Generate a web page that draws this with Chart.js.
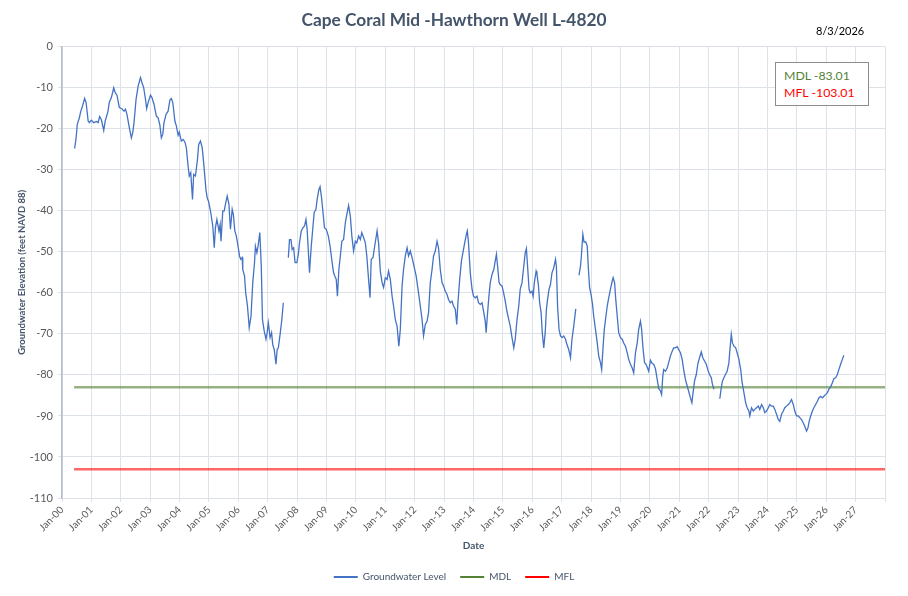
<!DOCTYPE html>
<html>
<head>
<meta charset="utf-8">
<script src="https://cdn.jsdelivr.net/npm/chart.js@4.4.1/dist/chart.umd.min.js"></script>
<style>
html,body{margin:0;padding:0;background:#fff;}
#wrap{position:relative;width:908px;height:596px;}
#date{position:absolute;left:816px;top:24px;font:11px Lato, sans-serif;color:#000;white-space:nowrap;}
#box{position:absolute;left:775px;top:62px;width:94px;height:44px;border:1px solid #8C8C8C;background:#fff;box-sizing:border-box;padding:4px 0 0 8px;font:12.3px Lato, sans-serif;line-height:17px;white-space:nowrap;}
#box .mdl{color:#548235;}
#box .mfl{color:#FF0000;}
</style>
</head>
<body>
<div id="wrap">
<canvas id="c" width="908" height="596"></canvas>
<div id="date">8/3/2026</div>
<div id="box"><div class="mdl">MDL -83.01</div><div class="mfl">MFL -103.01</div></div>
</div>
<script>
// ---- data (decimal year, feet NAVD 88) ----
const chartTitle = 'Cape Coral Mid -Hawthorn Well L-4820';
const seriesNames = ['Groundwater Level', 'MDL', 'MFL'];
const dates = [
  2000.43,2000.48,2000.52,2000.59,2000.64,2000.70,2000.77,2000.82,2000.89,2000.93,
  2001.00,2001.08,2001.17,2001.23,2001.28,2001.34,2001.42,2001.47,2001.56,2001.61,2001.68,2001.76,2001.81,2001.87,2001.95,
  2002.04,2002.11,2002.16,2002.21,2002.29,2002.36,2002.41,2002.45,2002.52,2002.59,2002.67,2002.72,2002.78,2002.84,2002.88,2002.93,
  2003.01,2003.06,2003.13,2003.21,2003.27,2003.33,2003.38,2003.43,2003.47,2003.54,2003.61,2003.67,2003.72,2003.77,2003.84,2003.89,2003.95,2003.99,
  2004.06,2004.12,2004.18,2004.23,2004.29,2004.33,2004.38,2004.44,2004.48,2004.54,2004.61,2004.65,2004.71,2004.77,2004.83,2004.90,2004.94,2004.99,
  2005.06,2005.13,2005.18,2005.22,2005.27,2005.34,2005.38,2005.41,2005.47,2005.52,2005.56,2005.62,2005.68,2005.73,2005.79,2005.83,2005.88,2005.93,2005.98,
  2006.04,2006.08,2006.13,2006.15,2006.21,2006.25,2006.31,2006.37,2006.43,2006.49,2006.55,2006.58,2006.63,2006.67,2006.73,2006.78,2006.82,2006.88,2006.94,2006.98,
  2007.02,2007.08,2007.13,2007.17,2007.22,2007.28,2007.32,2007.36,2007.42,2007.48,2007.53,2007.62,2007.70,2007.74,2007.79,2007.83,2007.88,2007.93,2007.99,
  2008.04,2008.08,2008.14,2008.20,2008.25,2008.30,2008.34,2008.39,2008.42,2008.48,2008.54,2008.58,2008.64,2008.68,2008.74,2008.78,2008.83,2008.88,2008.93,2008.99,
  2009.06,2009.12,2009.19,2009.24,2009.28,2009.33,2009.37,2009.42,2009.47,2009.52,2009.58,2009.64,2009.69,2009.75,2009.81,2009.86,2009.92,2009.98,
  2010.03,2010.09,2010.15,2010.20,2010.26,2010.32,2010.37,2010.43,2010.48,2010.52,2010.58,2010.63,2010.72,2010.77,2010.83,2010.89,2010.94,
  2011.00,2011.06,2011.11,2011.17,2011.23,2011.28,2011.34,2011.40,2011.46,2011.51,2011.57,2011.62,2011.68,2011.74,2011.79,2011.85,2011.91,2011.96,
  2012.05,2012.13,2012.19,2012.25,2012.30,2012.36,2012.42,2012.47,2012.53,2012.59,2012.64,2012.70,2012.76,2012.81,2012.87,2012.93,2012.98,
  2013.04,2013.10,2013.15,2013.21,2013.27,2013.32,2013.38,2013.43,2013.47,2013.53,2013.59,2013.64,2013.70,2013.76,2013.79,2013.83,2013.89,2013.95,
  2014.00,2014.06,2014.12,2014.17,2014.23,2014.29,2014.34,2014.40,2014.43,2014.47,2014.52,2014.57,2014.63,2014.69,2014.74,2014.78,2014.82,2014.87,2014.91,2014.97,
  2015.03,2015.08,2015.14,2015.20,2015.25,2015.31,2015.37,2015.42,2015.48,2015.54,2015.59,2015.65,2015.71,2015.76,2015.80,2015.84,2015.89,2015.93,2015.99,
  2016.03,2016.07,2016.13,2016.16,2016.21,2016.25,2016.30,2016.34,2016.39,2016.44,2016.48,2016.52,2016.57,2016.62,2016.67,2016.73,2016.79,2016.82,2016.86,2016.91,2016.96,
  2017.01,2017.07,2017.13,2017.18,2017.24,2017.30,2017.35,2017.41,2017.48,2017.53,2017.59,2017.64,2017.67,2017.72,2017.76,2017.82,2017.87,2017.91,2017.95,
  2018.00,2018.05,2018.09,2018.15,2018.21,2018.26,2018.32,2018.36,2018.41,2018.45,2018.50,2018.55,2018.60,2018.66,2018.72,2018.75,2018.80,2018.84,2018.89,2018.94,
  2019.00,2019.06,2019.11,2019.17,2019.23,2019.28,2019.34,2019.40,2019.45,2019.51,2019.57,2019.62,2019.68,2019.72,2019.77,2019.82,2019.87,2019.92,2019.96,
  2020.02,2020.08,2020.13,2020.19,2020.25,2020.30,2020.36,2020.40,2020.44,2020.47,2020.53,2020.59,2020.64,2020.70,2020.76,2020.81,2020.87,2020.93,2020.98,
  2021.04,2021.10,2021.15,2021.21,2021.27,2021.32,2021.38,2021.43,2021.47,2021.52,2021.58,2021.63,2021.69,2021.75,2021.80,2021.86,2021.92,2021.97,
  2022.03,2022.09,2022.13,2022.18,2022.28,2022.38,2022.43,2022.47,2022.52,2022.57,2022.63,2022.69,2022.72,2022.77,2022.81,2022.86,2022.92,2022.97,
  2023.03,2023.09,2023.14,2023.20,2023.26,2023.31,2023.37,2023.40,2023.46,2023.52,2023.57,2023.63,2023.69,2023.74,2023.80,2023.86,2023.91,2023.97,
  2024.03,2024.08,2024.14,2024.20,2024.25,2024.31,2024.37,2024.42,2024.48,2024.54,2024.59,2024.65,2024.71,2024.76,2024.82,2024.88,2024.93,2024.99,
  2025.05,2025.10,2025.16,2025.22,2025.27,2025.33,2025.38,2025.42,2025.47,2025.53,2025.58,2025.64,2025.70,2025.75,2025.81,2025.87,2025.92,2025.98,
  2026.04,2026.09,2026.15,2026.21,2026.26,2026.32,2026.38,2026.43,2026.49,2026.55,2026.60
];
const levels = [
  -24.8,-22.2,-18.9,-17.3,-15.7,-14.4,-12.6,-13.6,-18.1,-18.5,
  -17.9,-18.5,-18.2,-18.5,-17.0,-17.8,-20.4,-18.1,-15.9,-13.5,-12.4,-10.0,-11.2,-11.8,-14.8,
  -15.1,-15.7,-15.2,-16.5,-19.7,-22.2,-20.8,-18.5,-12.8,-9.6,-7.5,-8.7,-10.0,-12.8,-15.1,-13.6,
  -11.8,-12.4,-14.0,-16.9,-17.3,-19.1,-22.2,-21.3,-18.5,-16.5,-15.7,-13.0,-12.6,-13.6,-18.1,-19.3,-21.6,-20.8,
  -23.0,-22.6,-23.2,-24.6,-29.1,-31.5,-30.7,-37.2,-31.1,-31.5,-27.4,-23.8,-23.0,-24.6,-29.1,-35.0,-36.8,-37.8,
  -40.4,-43.7,-49.0,-44.1,-42.1,-44.9,-43.3,-47.4,-40.0,-40.0,-38.4,-36.4,-38.4,-44.5,-39.6,-40.9,-44.9,-46.1,-48.2,
  -51.0,-51.8,-51.4,-54.3,-55.9,-60.0,-63.2,-68.5,-65.7,-57.5,-52.6,-48.6,-50.2,-48.6,-45.3,-53.5,-66.5,-69.3,-71.3,-69.7,
  -67.3,-70.9,-69.7,-72.6,-73.8,-77.4,-73.8,-73.4,-70.1,-66.5,-62.4,null,-51.4,-47.0,-47.0,-49.4,-49.0,-52.6,-52.6,
  -50.6,-47.8,-44.9,-44.1,-43.7,-42.1,-44.5,-51.0,-55.1,-48.6,-43.7,-40.4,-39.6,-37.2,-34.8,-34.1,-36.8,-40.4,-44.1,-44.5,
  -46.1,-48.6,-52.6,-55.1,-55.9,-56.7,-60.8,-54.3,-51.0,-47.4,-47.0,-42.9,-40.9,-38.7,-41.3,-46.1,-49.8,-47.4,
  -47.8,-46.1,-47.0,-45.3,-46.5,-47.8,-51.0,-56.7,-61.2,-51.8,-51.4,-49.0,-44.9,-47.8,-54.7,-57.5,-58.7,
  -56.3,-56.7,-54.7,-56.7,-60.8,-63.2,-66.5,-68.1,-73.0,-68.9,-58.3,-54.3,-51.0,-49.0,-51.0,-49.8,-51.4,-53.0,
  -55.9,-60.0,-63.2,-66.5,-70.5,-67.7,-66.9,-64.8,-57.5,-54.3,-51.0,-49.8,-47.4,-49.0,-54.3,-57.5,-58.3,
  -59.6,-60.4,-61.6,-62.4,-62.0,-63.2,-64.0,-67.7,-62.4,-56.7,-52.2,-50.2,-47.8,-45.7,-44.9,-47.8,-55.1,-59.1,
  -60.8,-61.2,-60.8,-62.4,-62.8,-62.4,-64.4,-66.9,-69.7,-65.7,-61.2,-57.5,-55.5,-54.3,-52.2,-50.6,-53.5,-57.5,-58.0,-58.3,
  -60.2,-62.0,-64.6,-66.5,-68.1,-70.9,-73.4,-71.3,-66.5,-63.2,-59.1,-57.5,-53.5,-50.2,-49.2,-53.5,-59.1,-60.0,-59.6,
  -60.8,-57.5,-54.7,-55.5,-58.3,-62.4,-64.8,-69.7,-73.4,-69.7,-64.0,-61.6,-59.1,-57.9,-55.1,-53.9,-51.8,-53.5,-63.2,-68.9,-70.5,
  -70.9,-70.5,-71.3,-72.6,-73.8,-75.8,-71.3,-68.1,-63.9,null,-55.7,-53.5,-51.0,-45.7,-47.6,-47.6,-48.6,-54.3,-58.7,
  -60.4,-62.8,-65.7,-68.9,-72.2,-75.4,-77.0,-78.7,-73.0,-68.9,-66.0,-63.2,-61.2,-59.1,-57.1,-56.3,-57.5,-61.6,-65.7,-69.7,
  -70.9,-71.3,-72.2,-73.0,-74.6,-76.2,-77.4,-78.3,-79.5,-74.6,-72.2,-68.9,-66.9,-68.9,-73.8,-77.0,-77.4,-78.3,-79.1,
  -76.4,-77.2,-77.4,-78.5,-81.1,-83.3,-83.9,-84.8,-80.3,-78.7,-79.1,-78.3,-77.0,-75.4,-74.2,-73.4,-73.4,-73.1,-73.8,
  -74.6,-76.2,-78.7,-81.1,-82.7,-84.0,-85.6,-86.8,-84.3,-81.5,-79.9,-77.4,-75.8,-74.4,-75.8,-76.6,-77.4,-78.7,
  -79.9,-80.7,-82.3,-83.5,null,-85.8,-83.1,-81.5,-80.7,-79.9,-79.1,-77.0,-74.2,-70.1,-72.2,-73.0,-73.4,-74.6,
  -76.2,-78.7,-81.9,-84.3,-86.8,-88.0,-88.8,-90.0,-88.0,-88.8,-88.4,-88.0,-87.6,-88.4,-87.2,-88.0,-89.2,-88.8,
  -88.0,-87.2,-87.6,-87.6,-88.4,-89.6,-90.9,-91.3,-89.6,-88.8,-88.0,-87.6,-87.2,-86.8,-86.0,-87.2,-88.8,-90.0,
  -90.0,-90.4,-90.9,-91.7,-92.5,-93.7,-92.9,-91.3,-90.0,-88.8,-88.0,-87.2,-86.4,-85.6,-85.2,-85.6,-85.2,-84.8,
  -84.3,-83.5,-82.9,-81.9,-80.9,-80.7,-79.9,-78.7,-77.4,-76.2,-75.2
];
const mdlValue = -83.01;
const mflValue = -103.01;
const limitDates = [2000.41, 2028];
const xRange = [2000, 2028];
const yRange = [-110, 0];
const tickYears = [2000,2001,2002,2003,2004,2005,2006,2007,2008,2009,2010,2011,2012,2013,
                   2014,2015,2016,2017,2018,2019,2020,2021,2022,2023,2024,2025,2026,2027];

// ---- styling ----
const FONT = 'Lato, "Open Sans", sans-serif';
const lineColors = ['#4472C4', 'rgba(84,130,53,0.62)', 'rgba(255,0,0,0.6)'];
const legendColors = ['#4472C4', '#548235', '#FF0000'];
const gridColor = '#DDE1E8';

const gwData = dates.map((d, i) => ({x: d, y: levels[i]}));
const mdlData = limitDates.map(d => ({x: d, y: mdlValue}));
const mflData = limitDates.map(d => ({x: d, y: mflValue}));

new Chart(document.getElementById('c'), {
  type: 'line',
  data: {
    datasets: [
      {label: seriesNames[0], data: gwData, borderColor: lineColors[0], borderWidth: 1.3,
       pointRadius: 0, fill: false, spanGaps: false, tension: 0, order: 0},
      {label: seriesNames[1], data: mdlData, borderColor: lineColors[1], borderWidth: 2.5,
       pointRadius: 0, fill: false, order: 1},
      {label: seriesNames[2], data: mflData, borderColor: lineColors[2], borderWidth: 2.5,
       pointRadius: 0, fill: false, order: 2}
    ]
  },
  options: {
    responsive: false,
    animation: false,
    devicePixelRatio: 1,
    layout: {padding: {left: 0, right: 0, top: 0, bottom: 4}},
    plugins: {
      tooltip: {enabled: false},
      title: {
        display: true, text: chartTitle, color: '#44546A',
        font: {family: FONT, size: 17.3, weight: 'bold'},
        padding: {top: 10, bottom: 16}
      },
      legend: {
        position: 'bottom',
        labels: {
          color: '#44546A', font: {family: FONT, size: 10},
          boxWidth: 24, boxHeight: 2, padding: 14,
          generateLabels: (chart) => Chart.defaults.plugins.legend.labels.generateLabels(chart)
            .map((l, i) => Object.assign(l, {fillStyle: legendColors[i], strokeStyle: legendColors[i], lineWidth: 0}))
        }
      }
    },
    scales: {
      x: {
        type: 'linear', min: xRange[0], max: xRange[1],
        afterFit: (s) => { s.height = 60; },
        ticks: {
          stepSize: 1, autoSkip: false, maxRotation: 45, minRotation: 45,
          color: '#595959', font: {family: FONT, size: 10}, padding: 2,
          callback: (v) => {
            const yr = Math.round(v);
            return tickYears.includes(yr) ? 'Jan-' + String(yr % 100).padStart(2, '0') : '';
          }
        },
        grid: {color: gridColor, tickLength: 4},
        border: {color: gridColor},
        title: {display: true, text: 'Date', color: '#44546A',
                font: {family: FONT, size: 10, weight: 'bold'}, padding: {top: 0, bottom: 6}}
      },
      y: {
        min: yRange[0], max: yRange[1],
        afterFit: (s) => { s.width = 62; },
        ticks: {stepSize: 10, color: '#595959', font: {family: FONT, size: 11}, padding: 5},
        grid: {color: gridColor, tickLength: 4},
        border: {color: '#B4BDCC', width: 1.5},
        title: {display: true, text: 'Groundwater Elevation (feet NAVD 88)', color: '#44546A',
                font: {family: FONT, size: 9.5, weight: 'bold'}, padding: {top: 16, bottom: 0}}
      },
      yRight: {
        position: 'right', min: yRange[0], max: yRange[1],
        afterFit: (s) => { s.width = 23; },
        ticks: {display: false},
        grid: {display: false, drawTicks: false},
        border: {display: false},
        title: {display: false}
      }
    }
  }
});
</script>
</body>
</html>
